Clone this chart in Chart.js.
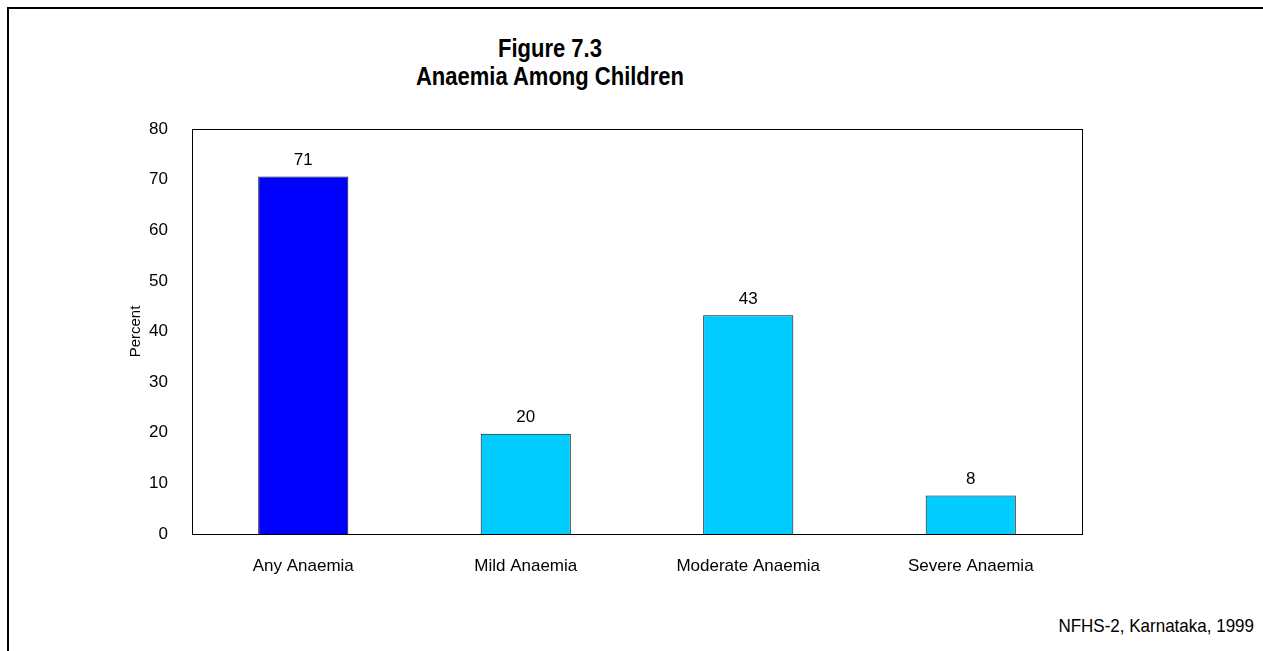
<!DOCTYPE html>
<html>
<head>
<meta charset="utf-8">
<script src="https://cdn.jsdelivr.net/npm/chart.js@4/dist/chart.umd.min.js"></script>
<style>
  html, body { margin: 0; padding: 0; background: #fff; overflow: hidden; }
  #wrap { position: relative; width: 1263px; height: 651px; }
  #frame { position: absolute; left: 7px; top: 7px; width: 1300px; height: 700px;
           border-left: 2px solid #000; border-top: 2px solid #000; }
  .txt { position: absolute; font-family: 'Liberation Sans', Arial, sans-serif; color: #000; white-space: nowrap; }
  .title { left: 0; width: 1100px; text-align: center; font-weight: bold; font-size: 22px; line-height: 26px;
           transform: scaleY(1.15); transform-origin: 50% 50%; }
  #note { right: 9px; top: 617px; font-size: 17px; line-height: 20px; transform: scaleY(1.08); }
  canvas { position: absolute; left: 0; top: 0; }
</style>
</head>
<body>
<div id="wrap">
  <div id="frame"></div>
  <div class="txt title" style="top:36px">Figure 7.3</div>
  <div class="txt title" style="top:64px">Anaemia Among Children</div>
  <div class="txt" id="note">NFHS-2, Karnataka, 1999</div>
  <canvas id="chart" width="1263" height="651"></canvas>
</div>
<script>
const categories = ['Any Anaemia', 'Mild Anaemia', 'Moderate Anaemia', 'Severe Anaemia'];
const percent = [70.6, 19.8, 43.2, 7.6];
const barColors = ['#0000ff', '#00ccff', '#00ccff', '#00ccff'];
const yTicks = [0, 10, 20, 30, 40, 50, 60, 70, 80];

const FONT = "'Liberation Sans', Arial, sans-serif";

// box round the plot area
const plotBox = {
  id: 'plotBox',
  afterDraw(chart) {
    const a = chart.chartArea, ctx = chart.ctx;
    ctx.save();
    ctx.strokeStyle = '#000';
    ctx.lineWidth = 1;
    ctx.strokeRect(a.left + 0.5, a.top + 0.5, a.right - a.left, a.bottom - a.top);
    ctx.restore();
  }
};

// numbers above bars
const barValues = {
  id: 'barValues',
  afterDatasetsDraw(chart) {
    const ctx = chart.ctx;
    const meta = chart.getDatasetMeta(0);
    ctx.save();
    ctx.font = '17px ' + FONT;
    ctx.fillStyle = '#000';
    ctx.textAlign = 'center';
    ctx.textBaseline = 'middle';
    meta.data.forEach((bar, i) => {
      ctx.fillText(String(Math.round(percent[i])), bar.x, bar.y - 16);
    });
    ctx.restore();
  }
};

new Chart(document.getElementById('chart').getContext('2d'), {
  type: 'bar',
  data: {
    labels: categories,
    datasets: [{
      data: percent,
      backgroundColor: barColors,
      borderColor: '#111',
      borderWidth: 1,
      categoryPercentage: 1,
      barPercentage: 0.405
    }]
  },
  options: {
    responsive: false,
    animation: false,
    devicePixelRatio: 1,
    layout: { padding: { left: 123, top: 129, right: 181, bottom: 0 } },
    plugins: { legend: { display: false }, tooltip: { enabled: false }, title: { display: false } },
    scales: {
      x: {
        grid: { display: false },
        border: { display: true, color: '#000', width: 1 },
        ticks: { color: '#000', padding: 14, font: { family: FONT, size: 17 } },
        afterFit(s) { s.height = 117; }
      },
      y: {
        min: 0,
        max: 80,
        afterBuildTicks(s) { s.ticks = yTicks.map(v => ({ value: v })); },
        grid: { display: false },
        border: { display: true, color: '#000', width: 1 },
        ticks: { color: '#000', padding: 16, font: { family: FONT, size: 17 } },
        title: { display: true, text: 'Percent', color: '#000', font: { family: FONT, size: 15 }, padding: { top: 4, bottom: 4 } },
        afterFit(s) { s.width = 69; }
      }
    }
  },
  plugins: [plotBox, barValues]
});
</script>
</body>
</html>
